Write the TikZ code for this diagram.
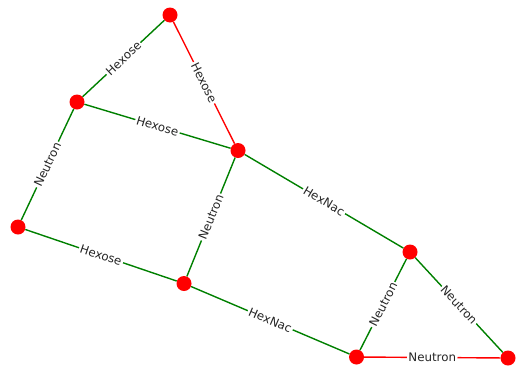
\documentclass[tikz,border=0pt]{standalone}
\usepackage{fontspec}
\setmainfont{DejaVu Sans}
\definecolor{edgegreen}{RGB}{0,128,0}
\definecolor{edgered}{RGB}{255,0,0}
\tikzset{
  vtx/.style={circle,fill=edgered,draw=none,minimum size=15pt,inner sep=0pt},
  ge/.style={draw=edgegreen,line width=1.4pt},
  re/.style={draw=edgered,line width=1.4pt},
  lbl/.style={fill=white,inner sep=1.5pt,font=\fontsize{11.8}{12}\selectfont,text=black!85,sloped,midway}
}
\begin{document}
\begin{tikzpicture}[x=1pt,y=-1pt]
\useasboundingbox (0,0) rectangle (516,370);
\node[vtx] (A) at (170,15) {};
\node[vtx] (B) at (77,102) {};
\node[vtx] (C) at (238,150.5) {};
\node[vtx] (D) at (18,227) {};
\node[vtx] (E) at (184,283.5) {};
\node[vtx] (F) at (410,252) {};
\node[vtx] (G) at (356.5,357) {};
\node[vtx] (H) at (508,358) {};
\begin{scope}[on background layer/.style={}]
\path[ge] (A) -- node[lbl] {Hexose} (B);
\path[re] (A) -- node[lbl] {Hexose} (C);
\path[ge] (B) -- node[lbl] {Hexose} (C);
\path[ge] (B) -- node[lbl] {Neutron} (D);
\path[ge] (C) -- node[lbl] {Neutron} (E);
\path[ge] (C) -- node[lbl] {HexNac} (F);
\path[ge] (D) -- node[lbl] {Hexose} (E);
\path[ge] (E) -- node[lbl] {HexNac} (G);
\path[ge] (F) -- node[lbl] {Neutron} (G);
\path[ge] (F) -- node[lbl] {Neutron} (H);
\path[re] (G) -- node[lbl] {Neutron} (H);
\end{scope}
\end{tikzpicture}
\end{document}
